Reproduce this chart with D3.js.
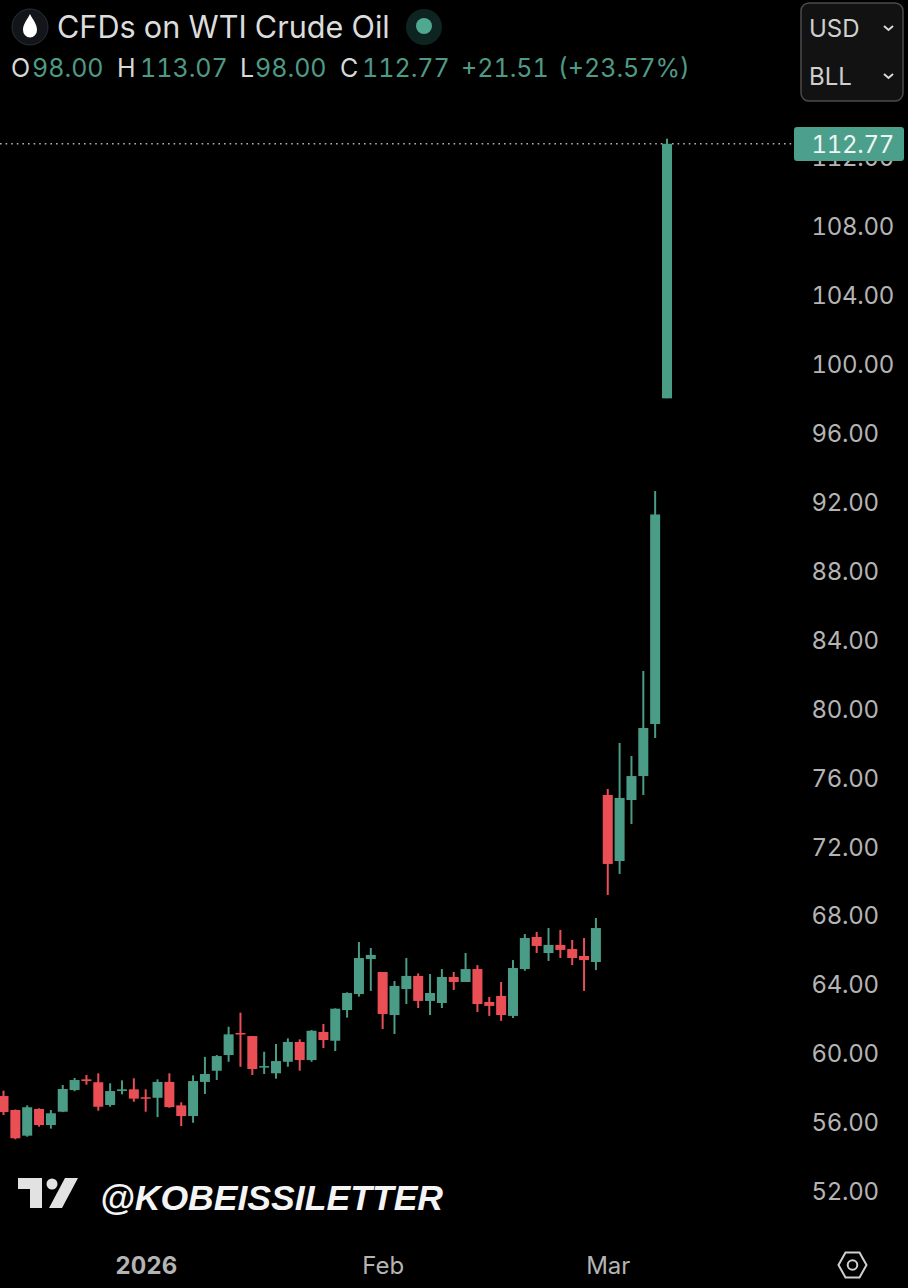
<!DOCTYPE html>
<html>
<head>
<meta charset="utf-8">
<script src="https://cdn.jsdelivr.net/npm/d3@7"></script>
<style>
  html, body { margin: 0; padding: 0; background: #000; }
  svg { display: block; font-family: Inter, "Liberation Sans", sans-serif; font-variant-numeric: tabular-nums; }
</style>
</head>
<body>
<div id="chart"></div>
<script>
const days = ['2025-12-15','2025-12-16','2025-12-17','2025-12-18','2025-12-19','2025-12-22','2025-12-23','2025-12-24','2025-12-26','2025-12-29',
  '2025-12-30','2025-12-31','2026-01-02','2026-01-05','2026-01-06','2026-01-07','2026-01-08','2026-01-09','2026-01-12','2026-01-13',
  '2026-01-14','2026-01-15','2026-01-16','2026-01-20','2026-01-21','2026-01-22','2026-01-23','2026-01-26','2026-01-27','2026-01-28',
  '2026-01-29','2026-01-30','2026-02-02','2026-02-03','2026-02-04','2026-02-05','2026-02-06','2026-02-09','2026-02-10','2026-02-11',
  '2026-02-12','2026-02-13','2026-02-17','2026-02-18','2026-02-19','2026-02-20','2026-02-23','2026-02-24','2026-02-25','2026-02-26',
  '2026-02-27','2026-03-02','2026-03-03','2026-03-04','2026-03-05','2026-03-06','2026-03-09'];

const opens = [57.51,56.70,55.21,56.76,55.83,56.60,57.86,58.48,58.31,56.99,
  57.80,57.90,57.44,57.41,58.33,56.97,56.35,58.33,58.98,59.89,
  61.17,60.99,59.16,58.83,59.50,60.65,59.60,61.23,60.72,62.50,
  63.43,65.46,64.71,62.21,63.72,64.48,63.03,62.91,64.42,64.13,
  64.88,62.97,63.32,62.16,64.88,66.74,65.81,66.28,66.04,65.64,
  65.29,74.98,71.15,74.69,76.08,79.10,98.00];
const highs = [57.82,56.73,56.97,56.80,56.70,58.15,58.56,58.73,58.83,58.25,
  58.42,58.54,57.90,58.48,58.83,57.15,58.71,59.78,59.89,61.53,
  62.35,60.99,60.08,60.53,60.86,60.80,61.34,61.69,62.60,63.53,
  66.45,66.10,64.71,64.19,65.52,64.63,64.59,64.88,64.71,65.81,
  65.11,63.26,64.13,65.40,66.91,67.03,67.26,67.15,66.57,66.68,
  67.84,75.33,78.00,77.24,82.18,92.62,113.07];
const lows = [56.41,55.00,55.15,55.73,55.62,56.58,57.79,58.17,56.66,56.89,
  57.61,57.18,56.60,56.29,56.83,55.77,55.96,57.63,58.44,59.50,
  59.21,58.73,58.79,58.52,59.21,58.98,59.50,60.30,60.12,62.06,
  63.28,63.61,61.40,61.11,62.85,62.62,62.21,62.62,63.66,64.13,
  62.39,62.16,61.87,62.04,64.78,65.81,65.35,65.52,65.11,63.61,
  64.82,69.18,70.40,73.30,74.98,78.29,98.00];
const closes = [56.58,55.06,56.86,55.83,56.51,57.92,58.44,58.38,56.89,57.80,
  57.90,57.36,57.36,58.33,56.87,56.35,58.38,58.79,59.83,61.09,
  61.09,59.08,59.25,59.54,60.65,59.60,61.30,60.76,62.58,63.49,
  65.52,65.70,62.27,63.90,64.48,63.03,63.49,64.42,64.13,64.88,
  62.85,62.74,62.21,64.94,66.68,66.22,66.28,65.99,65.52,65.40,
  67.26,70.98,74.81,76.08,78.87,91.26,112.77];

const priceTicks = [52,56,60,64,68,72,76,80,84,88,92,96,100,104,108,112];
const timeTicks = ['2026-01-02','2026-02-02','2026-03-02'];
const timeLabels = ['2026','Feb','Mar'];

const lastClose = 112.77;
const legendItems = [['O',11],['98.00',32],['H',117],['113.07',140],['L',240],['98.00',255],['C',340],['112.77',362],['+21.51',461],['(+23.57%)',558]];

const green = '#4a9c86', red = '#ea4f56', axisText = '#b4b4b4';

const svg = d3.select('#chart').append('svg').attr('width', 908).attr('height', 1288);

const x = d3.scalePoint().domain(days).range([3.5, 667]);
const y = d3.scaleLinear().domain([52, 108]).range([1191, 226]);

// last price line, under the candles
svg.append('line')
  .attr('x1', 0).attr('x2', 792)
  .attr('y1', y(lastClose)).attr('y2', y(lastClose))
  .attr('stroke', '#b0b0b0').attr('stroke-width', 1.6)
  .attr('stroke-dasharray', '1.6 4');

// candles
const candles = svg.append('g').selectAll('g')
  .data(days)
  .enter().append('g')
  .attr('fill', (d, i) => closes[i] >= opens[i] ? green : red)
  .attr('stroke', (d, i) => closes[i] >= opens[i] ? green : red);

candles.append('line')
  .attr('x1', d => x(d)).attr('x2', d => x(d))
  .attr('y1', (d, i) => y(highs[i])).attr('y2', (d, i) => y(lows[i]))
  .attr('stroke-width', 2);

candles.append('rect')
  .attr('x', d => x(d) - 5)
  .attr('width', 10)
  .attr('y', (d, i) => y(Math.max(opens[i], closes[i])))
  .attr('height', (d, i) => Math.max(1.5, Math.abs(y(opens[i]) - y(closes[i]))))
  .attr('stroke', 'none');

// price axis
const yAxis = svg.append('g')
  .attr('transform', 'translate(811.5,1)')
  .call(d3.axisRight(y).tickValues(priceTicks).tickSize(0).tickPadding(0).tickFormat(d => d.toFixed(2)));
yAxis.select('.domain').remove();
yAxis.selectAll('text')
  .attr('fill', axisText).attr('font-size', 24).attr('letter-spacing', -0.3)
  .attr('font-family', 'Inter, "Liberation Sans", sans-serif');

// time axis
const xAxis = svg.append('g')
  .attr('transform', 'translate(0,1257)')
  .call(d3.axisBottom(x).tickValues(timeTicks).tickSize(0).tickPadding(0).tickFormat((d, i) => timeLabels[i]));
xAxis.select('.domain').remove();
xAxis.selectAll('text')
  .attr('fill', axisText).attr('font-size', 24)
  .attr('font-weight', (d, i) => i == 0 ? 700 : 400)
  .attr('font-family', 'Inter, "Liberation Sans", sans-serif');

// last price tag
svg.append('rect').attr('x', 794).attr('y', 127).attr('width', 110).attr('height', 34).attr('rx', 3).attr('fill', '#4c9f8a');
svg.append('text').attr('x', 811.5).attr('y', 153).attr('fill', '#eef5f3').attr('font-size', 24).attr('letter-spacing', -0.3).text(lastClose.toFixed(2));

// header: symbol icon, title, status dot
svg.append('circle').attr('cx', 30).attr('cy', 27).attr('r', 18).attr('fill', '#12151a').attr('stroke', '#2b2f36');
svg.append('path').attr('d', 'M30 14 C33 20 37 24 37 30 A7 7.5 0 0 1 23 30 C23 24 27 20 30 14 Z').attr('fill', '#fff');
svg.append('text').attr('x', 57).attr('y', 38).attr('fill', '#dcdcdc').attr('font-size', 30.6).text('CFDs on WTI Crude Oil');
svg.append('circle').attr('cx', 424).attr('cy', 27).attr('r', 18).attr('fill', '#0e2421');
svg.append('circle').attr('cx', 424).attr('cy', 26).attr('r', 8).attr('fill', '#4fa890');

// OHLC legend
svg.append('g').selectAll('text')
  .data(legendItems)
  .enter().append('text')
  .attr('x', d => d[1]).attr('y', 77)
  .attr('font-size', 25)
  .attr('fill', d => d[0].length == 1 ? '#d8d8d8' : '#4f9a86')
  .text(d => d[0]);

// currency / unit box
svg.append('rect').attr('x', 801).attr('y', 3).attr('width', 102).attr('height', 98).attr('rx', 8)
  .attr('fill', '#121212').attr('stroke', '#4b4b4b').attr('stroke-width', 1.5);
const selects = [['USD', 37], ['BLL', 85]];
svg.append('g').selectAll('text')
  .data(selects)
  .enter().append('text')
  .attr('x', 809).attr('y', d => d[1])
  .attr('fill', '#cfcfcf').attr('font-size', 24)
  .text(d => d[0]);
svg.append('g').selectAll('path')
  .data(selects)
  .enter().append('path')
  .attr('d', d => `M884 ${d[1] - 11} l4.5 4 l4.5 -4`)
  .attr('fill', 'none').attr('stroke', '#d8d8d8').attr('stroke-width', 2);

// watermark
const logo = svg.append('g').attr('fill', '#e2e2e2');
logo.append('path').attr('d', 'M18 1178 H42 V1208 H30 V1189 H18 Z');
logo.append('circle').attr('cx', 52).attr('cy', 1184).attr('r', 5.5);
logo.append('path').attr('d', 'M65 1178 H78 L62 1208 H49 Z');
svg.append('text').attr('x', 100).attr('y', 1210)
  .attr('font-family', '"Liberation Sans", sans-serif')
  .attr('font-size', 35.6).attr('font-weight', 700).attr('font-style', 'italic')
  .attr('fill', '#f4f4f4').text('@KOBEISSILETTER');

// settings icon
svg.append('path').attr('d', 'M838.5 1265 L845.5 1252.5 H859.5 L866.5 1265 L859.5 1277.5 H845.5 Z')
  .attr('fill', 'none').attr('stroke', '#d0d0d0').attr('stroke-width', 2);
svg.append('circle').attr('cx', 852.5).attr('cy', 1265).attr('r', 4.8)
  .attr('fill', 'none').attr('stroke', '#d0d0d0').attr('stroke-width', 2);
</script>
</body>
</html>
